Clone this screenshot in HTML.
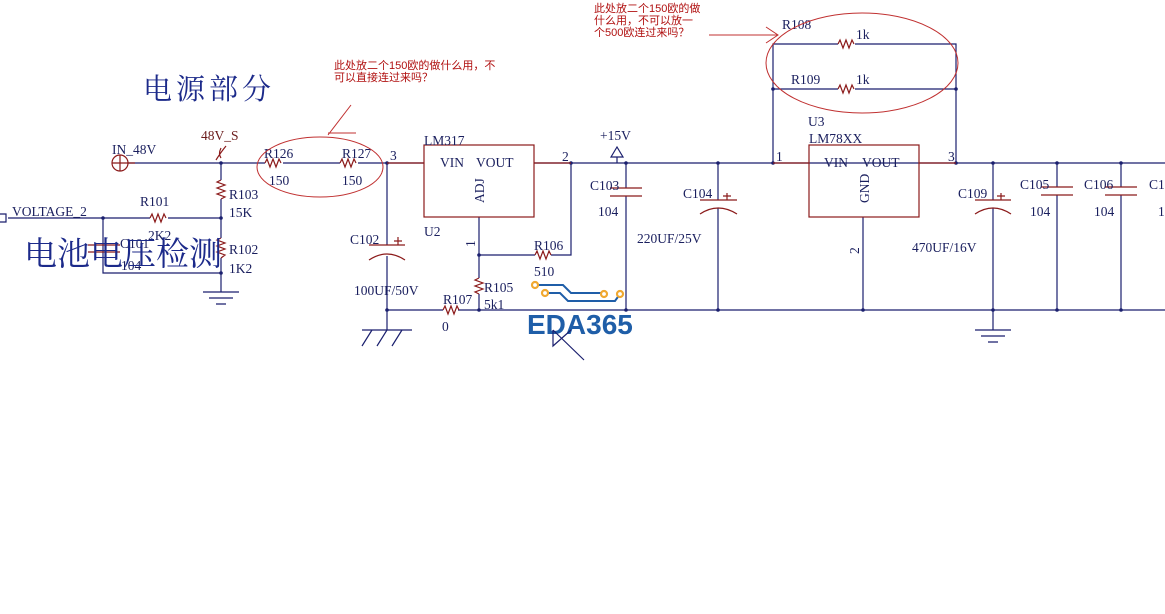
<!DOCTYPE html>
<html><head><meta charset="utf-8"><style>
html,body{margin:0;padding:0;background:#fff;}
svg{display:block;}
text{font-family:"Liberation Serif","Noto Serif CJK SC",serif;font-size:13.5px;fill:#1a1f5e;}
.r{fill:#b01010;font-family:"Liberation Sans","Noto Sans CJK SC",sans-serif;font-size:11px;}
.w{stroke:#1a1f6e;stroke-width:1.2;fill:none;}
.c{stroke:#8b1a1a;stroke-width:1.2;fill:none;}
.e{stroke:#c03030;stroke-width:1;fill:none;}
</style></head><body>
<svg width="1165" height="614" viewBox="0 0 1165 614" xmlns="http://www.w3.org/2000/svg">
<text x="143" y="99" style="font-size:29px;letter-spacing:4px;fill:#1c2a8a;font-family:'Noto Serif CJK SC',serif">电源部分</text>

<path class="w" d="M128 163 H265 M283 163 H340 M358 163 H424 M534 163 H1165"/>
<path class="w" d="M221 163 V180 M221 199 V238 M221 258 V292"/>
<path class="w" d="M8 218 H150 M168 218 H221 M103 218 V273 H221"/>
<path class="w" d="M387 163 V245 M387 256 V330"/>
<path class="w" d="M387 310 H443 M458 310 H1165"/>
<path class="w" d="M479 217 V278 M479 294 V310 M479 255 H535 M551 255 H571 V163"/>
<path class="w" d="M617 157 V163 M626 163 V188 M626 196 V310 M718 163 V200 M718 208 V310"/>
<path class="w" d="M773 163 V44 H838 M855 44 H956 V163 M773 89 H838 M855 89 H956"/>
<path class="w" d="M863 217 V310 M993 163 V200 M993 208 V330 M1057 163 V187 M1057 195 V310 M1121 163 V187 M1121 195 V310"/>
<g fill="#1a1f6e"><circle cx="221" cy="163" r="1.8"/><circle cx="103" cy="218" r="1.8"/><circle cx="221" cy="218" r="1.8"/><circle cx="221" cy="273" r="1.8"/><circle cx="387" cy="163" r="1.8"/><circle cx="387" cy="310" r="1.8"/><circle cx="479" cy="255" r="1.8"/><circle cx="479" cy="310" r="1.8"/><circle cx="571" cy="163" r="1.8"/><circle cx="626" cy="163" r="1.8"/><circle cx="626" cy="310" r="1.8"/><circle cx="718" cy="163" r="1.8"/><circle cx="718" cy="310" r="1.8"/><circle cx="773" cy="163" r="1.8"/><circle cx="773" cy="89" r="1.8"/><circle cx="956" cy="89" r="1.8"/><circle cx="956" cy="163" r="1.8"/><circle cx="863" cy="310" r="1.8"/><circle cx="993" cy="163" r="1.8"/><circle cx="993" cy="310" r="1.8"/><circle cx="1057" cy="163" r="1.8"/><circle cx="1057" cy="310" r="1.8"/><circle cx="1121" cy="163" r="1.8"/><circle cx="1121" cy="310" r="1.8"/></g>

<circle class="c" cx="120" cy="163" r="8"/><path class="c" d="M112 163 H128 M120 155 V171 M128 163 H135"/>
<path class="c" d="M221 148 q-3 6 0 10 M216 160 q5 -8 10 -14"/>
<path class="c" d="M265 163 l2 -4 3 8 3 -8 3 8 3 -8 2 4"/>
<path class="c" d="M340 163 l2 -4 3 8 3 -8 3 8 3 -8 2 4"/>
<path class="c" d="M150 218 l2 -4 3 8 3 -8 3 8 3 -8 2 4"/>
<path class="c" d="M535 255 l2 -4 3 8 3 -8 3 8 3 -8 2 4"/>
<path class="c" d="M443 310 l2 -4 3 8 3 -8 3 8 3 -8 2 4"/>
<path class="c" d="M838 44 l2 -4 3 8 3 -8 3 8 3 -8 2 4"/>
<path class="c" d="M838 89 l2 -4 3 8 3 -8 3 8 3 -8 2 4"/>
<path class="c" d="M221 180 l-4 2 8 3 -8 3 8 3 -8 3 8 3 -4 2"/>
<path class="c" d="M221 238 l-4 2 8 3 -8 3 8 3 -8 3 8 3 -4 3"/>
<path class="c" d="M479 278 l-4 2 8 3 -8 3 8 3 -8 3 4 2"/>
<path class="c" d="M88 245 H120 M88 252 H120"/>
<path class="c" d="M369 245 H405 M369 260 Q387 248 405 260 M398 237 v8 M394 241 h8"/>
<path class="c" d="M700 200 H737 M700 214 Q718 202 737 214 M727 193 v7 M723 196 h8"/>
<path class="c" d="M975 200 H1011 M975 214 Q993 202 1011 214 M1001 193 v7 M997 196 h8"/>
<path class="c" d="M610 188 H642 M610 196 H642"/>
<path class="c" d="M1041 187 H1073 M1041 195 H1073"/>
<path class="c" d="M1105 187 H1137 M1105 195 H1137"/>
<rect class="c" x="424" y="145" width="110" height="72"/>
<rect class="c" x="809" y="145" width="110" height="72"/>
<path class="c" d="M387 163 H424 M534 163 H571 M773 163 H809 M919 163 H956"/>
<path class="w" d="M611 157 L617 147 L623 157 Z" fill="none"/>
<path class="w" d="M203 292 H239 M209 298 H233 M216 304 H226"/>
<path class="w" d="M975 330 H1011 M981 336 H1005 M988 342 H998"/>
<path class="w" d="M362 330 H412 M372 330 L362 346 M387 330 L377 346 M402 330 L392 346"/>
<path class="w" d="M0 214 h6 v8 h-6"/>

<text x="112" y="154">IN_48V</text>
<text x="201" y="140" style="fill:#6a1a1a">48V_S</text>
<text x="12" y="216">VOLTAGE_2</text>
<text x="140" y="206">R101</text>
<text x="148" y="240">2K2</text>
<text x="229" y="199">R103</text><text x="229" y="217">15K</text>
<text x="229" y="254">R102</text><text x="229" y="273">1K2</text>
<text x="120" y="248">C101</text><text x="121" y="270">104</text>
<text x="24" y="265" style="font-size:33px;fill:#1c2a8a;font-family:'Noto Serif CJK SC',serif">电池电压检测</text>
<text x="264" y="158">R126</text><text x="269" y="185">150</text>
<text x="342" y="158">R127</text><text x="342" y="185">150</text>
<text x="390" y="160">3</text>
<text x="350" y="244">C102</text><text x="354" y="295">100UF/50V</text>
<text x="424" y="145">LM317</text>
<text x="440" y="167">VIN</text><text x="476" y="167">VOUT</text>
<text x="0" y="0" transform="translate(484,203) rotate(-90)">ADJ</text>
<text x="424" y="236">U2</text>
<text x="562" y="161">2</text>
<text x="0" y="0" transform="translate(475,247) rotate(-90)">1</text>
<text x="534" y="250">R106</text><text x="534" y="276">510</text>
<text x="484" y="292">R105</text><text x="484" y="309">5k1</text>
<text x="443" y="304">R107</text><text x="442" y="331">0</text>
<text x="600" y="140">+15V</text>
<text x="590" y="190">C103</text><text x="598" y="216">104</text>
<text x="683" y="198">C104</text><text x="637" y="243">220UF/25V</text>
<text x="776" y="161">1</text>
<text x="808" y="126">U3</text><text x="809" y="143">LM78XX</text>
<text x="824" y="167">VIN</text><text x="862" y="167">VOUT</text>
<text x="0" y="0" transform="translate(869,203) rotate(-90)">GND</text>
<text x="0" y="0" transform="translate(859,254) rotate(-90)">2</text>
<text x="948" y="161">3</text>
<text x="782" y="29">R108</text><text x="856" y="39">1k</text>
<text x="791" y="84">R109</text><text x="856" y="84">1k</text>
<text x="958" y="198">C109</text><text x="912" y="252">470UF/16V</text>
<text x="1020" y="189">C105</text><text x="1030" y="216">104</text>
<text x="1084" y="189">C106</text><text x="1094" y="216">104</text>
<text x="1149" y="189">C1</text><text x="1158" y="216">1</text>

<ellipse class="e" cx="320" cy="167" rx="63" ry="30"/>
<path class="e" d="M351 105 L328 135 M328 133 H356"/>
<text class="r" x="334" y="69">此处放二个150欧的做什么用，不</text>
<text class="r" x="334" y="81">可以直接连过来吗？</text>
<ellipse class="e" cx="862" cy="63" rx="96" ry="50"/>
<path class="e" d="M709 35 H778 M766 27 L778 35 L766 43"/>
<text class="r" x="594" y="12">此处放二个150欧的做</text>
<text class="r" x="594" y="24">什么用，不可以放一</text>
<text class="r" x="594" y="36">个500欧连过来吗？</text>

<path d="M535 285 H563 L571 293 H604 M545 293 H560 L568 301 H615 L620 294" stroke="#1f5ea8" stroke-width="2" fill="none"/>
<g fill="#fff" stroke="#f0a830" stroke-width="2.2"><circle cx="535" cy="285" r="3"/><circle cx="545" cy="293" r="3"/><circle cx="604" cy="294" r="3"/><circle cx="620" cy="294" r="3"/></g>
<text x="527" y="334" style="font-family:'Liberation Sans',sans-serif;font-size:28px;font-weight:bold;fill:#1f5ea8">EDA365</text>
<path class="w" d="M553 330 V346 L571 330 M553 330 L584 360"/>
</svg>
</body></html>
